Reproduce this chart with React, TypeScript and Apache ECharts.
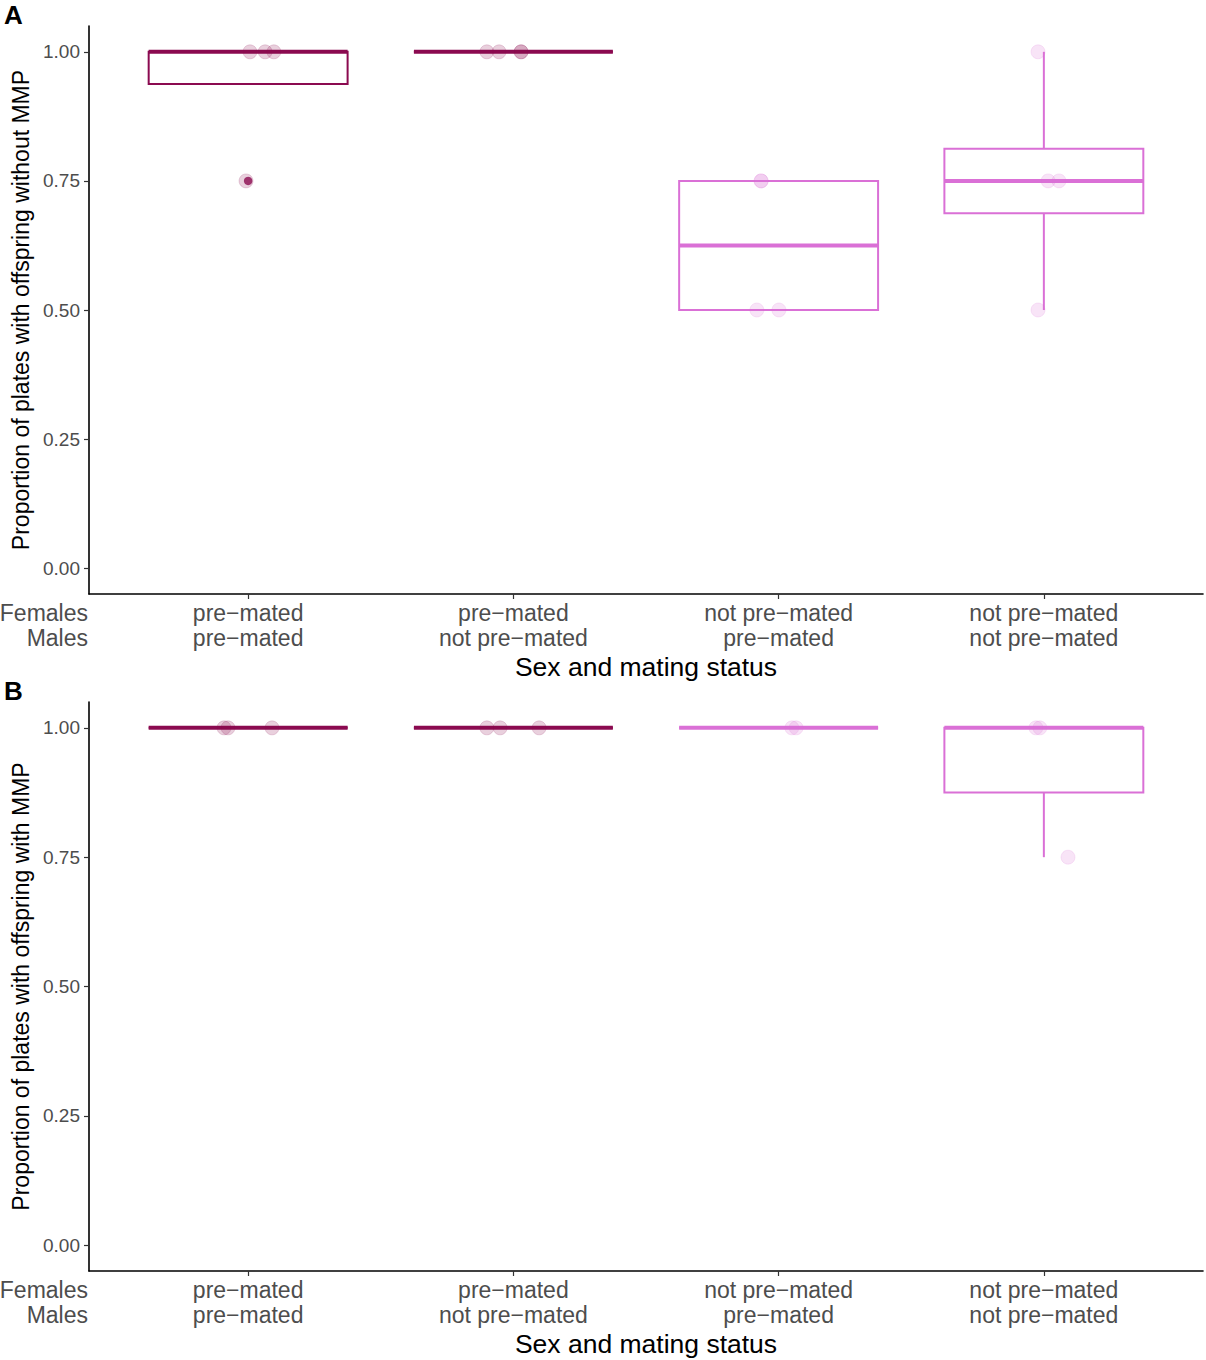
import React, { useEffect, useRef } from "react";
import * as echarts from "echarts";

// ---- Data ----
const femalesStatus = ["pre−mated", "pre−mated", "not pre−mated", "not pre−mated"];
const malesStatus = ["pre−mated", "not pre−mated", "pre−mated", "not pre−mated"];
const groupColors = ["#8B0A50", "#8B0A50", "#DA70D6", "#DA70D6"];
const yTicks = [0, 0.25, 0.5, 0.75, 1];
const xTicks = [1, 2, 3, 4];

// [x, lowerWhisker, q1, median, q3, upperWhisker]
const boxesA = [
  [1, 0.9375, 0.9375, 1, 1, 1],
  [2, 1, 1, 1, 1, 1],
  [3, 0.5, 0.5, 0.625, 0.75, 0.75],
  [4, 0.5, 0.6875, 0.75, 0.8125, 1],
];
const boxesB = [
  [1, 1, 1, 1, 1, 1],
  [2, 1, 1, 1, 1, 1],
  [3, 1, 1, 1, 1, 1],
  [4, 0.75, 0.875, 1, 1, 1],
];
const outliersA = [[1, 0.75]];
const outliersB: number[][] = [];

// jittered raw points [x, y]
const pointsA = [
  [1.007, 1], [1.064, 1], [1.097, 1], [0.992, 0.75],
  [1.9, 1], [1.946, 1], [2.029, 1], [2.029, 1],
  [2.934, 0.75], [2.934, 0.75], [2.918, 0.5], [3.001, 0.5],
  [3.978, 1], [4.016, 0.75], [4.057, 0.75], [3.978, 0.5],
];
const pointsB = [
  [0.909, 1], [0.924, 1], [1.09, 1],
  [1.9, 1], [1.95, 1], [2.097, 1],
  [3.05, 1], [3.066, 1],
  [3.97, 1], [3.985, 1], [4.091, 0.75],
];

const yTitleA = "Proportion of plates with offspring without MMP";
const yTitleB = "Proportion of plates with offspring with MMP";
const xTitle = "Sex and mating status";

const FONT = "'Liberation Sans', Arial, Helvetica, sans-serif";

function hexToRgba(hex: string, a: number) {
  const n = parseInt(hex.slice(1), 16);
  return `rgba(${(n >> 16) & 255},${(n >> 8) & 255},${n & 255},${a})`;
}

function boxSeries(data: number[][], idx: number) {
  return {
    type: "custom",
    xAxisIndex: idx,
    yAxisIndex: idx,
    data,
    z: 2,
    renderItem: (params: any, api: any) => {
      const x = api.value(0);
      const lo = api.value(1);
      const q1 = api.value(2);
      const med = api.value(3);
      const q3 = api.value(4);
      const hi = api.value(5);
      const c = groupColors[params.dataIndex];
      const tl = api.coord([x - 0.375, q3]);
      const br = api.coord([x + 0.375, q1]);
      const m1 = api.coord([x - 0.375, med]);
      const m2 = api.coord([x + 0.375, med]);
      const pHi = api.coord([x, hi]);
      const pQ3 = api.coord([x, q3]);
      const pQ1 = api.coord([x, q1]);
      const pLo = api.coord([x, lo]);
      const children: any[] = [];
      if (hi > q3) {
        children.push({
          type: "line",
          shape: { x1: pQ3[0], y1: pQ3[1], x2: pHi[0], y2: pHi[1] },
          style: { stroke: c, lineWidth: 2 },
        });
      }
      if (lo < q1) {
        children.push({
          type: "line",
          shape: { x1: pQ1[0], y1: pQ1[1], x2: pLo[0], y2: pLo[1] },
          style: { stroke: c, lineWidth: 2 },
        });
      }
      children.push({
        type: "rect",
        shape: { x: tl[0], y: tl[1], width: br[0] - tl[0], height: br[1] - tl[1] },
        style: { fill: "none", stroke: c, lineWidth: 2 },
      });
      children.push({
        type: "line",
        shape: { x1: m1[0], y1: m1[1], x2: m2[0], y2: m2[1] },
        style: { stroke: c, lineWidth: 4 },
      });
      return { type: "group", children };
    },
  };
}

function pointSeries(data: number[][], idx: number) {
  return {
    type: "scatter",
    xAxisIndex: idx,
    yAxisIndex: idx,
    z: 3,
    symbolSize: 14,
    data: data.map((p) => {
      const c = groupColors[Math.round(p[0]) - 1];
      return {
        value: p,
        itemStyle: { color: hexToRgba(c, 0.24), borderColor: hexToRgba(c, 0.2), borderWidth: 1 },
      };
    }),
  };
}

function outlierSeries(data: number[][], idx: number) {
  return {
    type: "scatter",
    xAxisIndex: idx,
    yAxisIndex: idx,
    z: 4,
    symbolSize: 8.5,
    data: data.map((p) => ({
      value: p,
      itemStyle: { color: groupColors[Math.round(p[0]) - 1] },
    })),
  };
}

function xAxis(idx: number) {
  return {
    type: "value",
    gridIndex: idx,
    min: 0.4,
    max: 4.6,
    splitLine: { show: false },
    axisLine: { show: true, onZero: false, lineStyle: { color: "#000", width: 1.6 } },
    axisTick: { show: true, customValues: xTicks, length: 5, lineStyle: { color: "#333", width: 1.2 } },
    axisLabel: {
      customValues: xTicks,
      formatter: (v: number) => `${femalesStatus[Math.round(v) - 1]}\n${malesStatus[Math.round(v) - 1]}`,
      fontSize: 23,
      lineHeight: 25,
      color: "#4D4D4D",
      fontFamily: FONT,
      margin: 6,
    },
    name: xTitle,
    nameLocation: "middle",
    nameGap: 59,
    nameTextStyle: { fontSize: 26.5, color: "#000", fontFamily: FONT },
  };
}

function yAxis(idx: number, title: string) {
  return {
    type: "value",
    gridIndex: idx,
    min: -0.05,
    max: 1.05,
    splitLine: { show: false },
    axisLine: { show: true, onZero: false, lineStyle: { color: "#000", width: 1.6 } },
    axisTick: { show: true, customValues: yTicks, length: 5, lineStyle: { color: "#333", width: 1.2 } },
    axisLabel: {
      customValues: yTicks,
      formatter: (v: number) => v.toFixed(2),
      fontSize: 19,
      color: "#4D4D4D",
      fontFamily: FONT,
      margin: 9,
    },
    name: title,
    nameLocation: "middle",
    nameRotate: 90,
    nameGap: 52,
    nameTextStyle: { fontSize: 23, color: "#000", fontFamily: FONT },
  };
}

export default function App() {
  const ref = useRef<HTMLDivElement>(null);
  useEffect(() => {
    if (!ref.current) return;
    const chart = echarts.init(ref.current, undefined, { renderer: "svg" });
    chart.setOption({
      animation: false,
      backgroundColor: "#fff",
      grid: [
        { left: 89, top: 26, width: 1114, height: 568 },
        { left: 89, top: 702, width: 1114, height: 569 },
      ],
      xAxis: [xAxis(0), xAxis(1)],
      yAxis: [yAxis(0, yTitleA), yAxis(1, yTitleB)],
      graphic: [
        { type: "text", left: 4, top: 2, style: { text: "A", font: `bold 26px ${FONT}`, fill: "#000" } },
        { type: "text", left: 4, top: 678, style: { text: "B", font: `bold 26px ${FONT}`, fill: "#000" } },
        {
          type: "text",
          x: 88,
          y: 600,
          style: { text: "Females\nMales", font: `23px ${FONT}`, lineHeight: 25, fill: "#4D4D4D", align: "right", verticalAlign: "top" },
        },
        {
          type: "text",
          x: 88,
          y: 1277,
          style: { text: "Females\nMales", font: `23px ${FONT}`, lineHeight: 25, fill: "#4D4D4D", align: "right", verticalAlign: "top" },
        },
      ],
      series: [
        boxSeries(boxesA, 0),
        pointSeries(pointsA, 0),
        outlierSeries(outliersA, 0),
        boxSeries(boxesB, 1),
        pointSeries(pointsB, 1),
        outlierSeries(outliersB, 1),
      ],
    });
    return () => chart.dispose();
  }, []);
  return (
    <div
      ref={ref}
      style={{ position: "absolute", left: 0, top: 0, width: 1206, height: 1360, background: "#fff" }}
    />
  );
}
